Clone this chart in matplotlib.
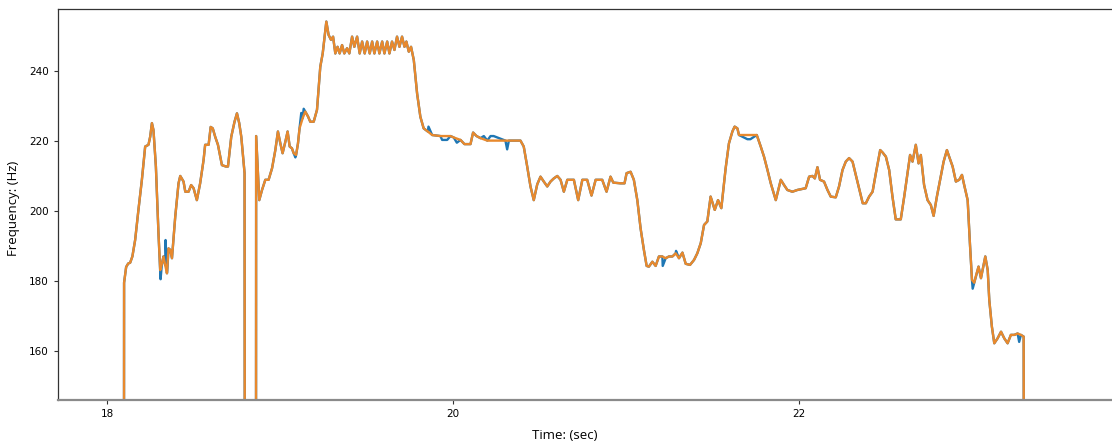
import numpy as np
import matplotlib.pyplot as plt

# smoothed pitch track (orange), time in sec / frequency in Hz
t_smooth = [
    18.096, 18.098, 18.110, 18.122, 18.133, 18.146, 18.162, 18.181, 18.201, 18.220,
    18.239, 18.249, 18.259, 18.268, 18.282, 18.297, 18.307, 18.317, 18.326, 18.336,
    18.346, 18.355, 18.365, 18.375, 18.394, 18.413, 18.423, 18.442, 18.452, 18.471,
    18.486, 18.500, 18.519, 18.538, 18.558, 18.567, 18.587, 18.599, 18.611, 18.625,
    18.641, 18.664, 18.687, 18.699, 18.718, 18.737, 18.751, 18.764, 18.776, 18.795,
    18.798, 18.860, 18.862, 18.880, 18.896, 18.915, 18.934, 18.954, 18.973, 18.988,
    19.002, 19.015, 19.031, 19.044, 19.056, 19.069, 19.079, 19.093, 19.104, 19.113,
    19.131, 19.146, 19.162, 19.175, 19.195, 19.214, 19.233, 19.247, 19.258, 19.268,
    19.281, 19.295, 19.307, 19.320, 19.333, 19.345, 19.359, 19.372, 19.388, 19.401,
    19.417, 19.430, 19.446, 19.461, 19.475, 19.490, 19.504, 19.519, 19.533, 19.546,
    19.562, 19.575, 19.591, 19.604, 19.620, 19.633, 19.648, 19.662, 19.677, 19.691,
    19.706, 19.720, 19.731, 19.745, 19.758, 19.774, 19.793, 19.812, 19.831, 19.855,
    19.880, 19.928, 19.986, 20.005, 20.044, 20.067, 20.102, 20.117, 20.137, 20.160,
    20.199, 20.391, 20.410, 20.430, 20.449, 20.468, 20.488, 20.507, 20.526, 20.546,
    20.565, 20.584, 20.604, 20.623, 20.642, 20.662, 20.700, 20.725, 20.749, 20.777,
    20.802, 20.826, 20.864, 20.889, 20.912, 20.928, 20.970, 20.993, 21.005, 21.028,
    21.047, 21.067, 21.086, 21.105, 21.121, 21.134, 21.154, 21.173, 21.192, 21.212,
    21.231, 21.250, 21.270, 21.289, 21.308, 21.328, 21.347, 21.372, 21.395, 21.414,
    21.434, 21.453, 21.472, 21.491, 21.515, 21.534, 21.553, 21.578, 21.597, 21.617,
    21.630, 21.646, 21.655, 21.758, 21.781, 21.800, 21.820, 21.839, 21.868, 21.897,
    21.916, 21.935, 21.964, 21.993, 22.041, 22.061, 22.080, 22.094, 22.109, 22.124,
    22.147, 22.167, 22.186, 22.215, 22.234, 22.254, 22.273, 22.292, 22.312, 22.331,
    22.350, 22.371, 22.389, 22.408, 22.428, 22.447, 22.472, 22.486, 22.505, 22.524,
    22.543, 22.562, 22.591, 22.611, 22.630, 22.645, 22.659, 22.678, 22.694, 22.707,
    22.726, 22.746, 22.765, 22.781, 22.800, 22.819, 22.839, 22.858, 22.871, 22.891,
    22.910, 22.929, 22.945, 22.958, 22.978, 22.991, 23.003, 23.016, 23.030, 23.041,
    23.055, 23.068, 23.080, 23.094, 23.103, 23.118, 23.132, 23.151, 23.171, 23.190,
    23.209, 23.228, 23.248, 23.267, 23.286, 23.302, 23.306,
]
f_smooth = [
    0.0, 179.5, 184.0, 185.0, 185.2, 187.0, 191.7, 200.3, 208.9, 218.4,
    218.9, 221.2, 225.1, 223.1, 212.7, 193.6, 183.1, 185.0, 187.0, 184.5,
    182.2, 189.3, 188.9, 186.5, 198.4, 207.9, 210.0, 208.4, 205.5, 205.5,
    207.4, 206.5, 203.1, 207.9, 214.6, 218.9, 218.9, 224.0, 223.6, 221.2,
    218.9, 213.1, 212.7, 212.7, 221.2, 225.5, 227.9, 225.1, 221.2, 210.8,
    0.0, 0.0, 221.4, 203.1, 206.0, 208.9, 208.9, 212.2, 217.4, 222.7,
    219.3, 216.5, 219.8, 222.7, 218.4, 217.9, 216.5, 216.0, 219.3, 223.6,
    226.5, 228.4, 227.0, 225.5, 225.5, 228.9, 241.2, 245.0, 249.8, 254.1,
    250.3, 248.9, 249.8, 245.0, 246.9, 245.0, 247.4, 245.0, 246.5, 245.0,
    249.8, 246.9, 249.8, 245.0, 248.4, 245.0, 248.4, 245.0, 248.4, 245.0,
    248.4, 245.0, 248.4, 245.0, 248.4, 245.0, 248.4, 246.0, 249.8, 246.9,
    249.8, 246.9, 248.4, 245.5, 246.9, 243.1, 233.6, 226.9, 223.6, 222.7,
    221.7, 221.4, 221.4, 221.0, 220.3, 219.1, 219.1, 222.4, 221.4, 220.8,
    220.1, 220.1, 218.4, 212.7, 207.0, 203.1, 207.6, 209.8, 208.4, 207.0,
    208.4, 209.3, 210.0, 208.9, 205.5, 208.9, 208.9, 203.1, 208.9, 208.9,
    204.4, 208.9, 208.9, 205.5, 209.8, 208.1, 207.9, 207.9, 210.8, 211.2,
    208.9, 203.1, 195.0, 188.9, 184.3, 184.1, 185.5, 184.3, 187.0, 187.0,
    186.5, 187.0, 187.0, 187.9, 186.5, 188.1, 184.9, 184.6, 186.0, 187.9,
    190.8, 196.0, 197.0, 204.1, 200.3, 203.1, 200.8, 212.2, 219.3, 222.7,
    224.1, 223.6, 221.7, 221.7, 218.4, 215.5, 211.7, 207.9, 203.1, 208.9,
    207.4, 206.0, 205.5, 206.0, 206.5, 209.8, 210.0, 209.3, 212.5, 208.9,
    208.4, 206.0, 204.1, 203.9, 207.0, 211.7, 214.1, 215.1, 214.1, 210.3,
    206.5, 202.2, 202.2, 204.1, 205.5, 210.8, 217.4, 216.7, 215.5, 211.7,
    204.1, 197.6, 197.6, 204.1, 210.8, 216.0, 214.1, 218.9, 213.6, 216.0,
    207.4, 203.1, 201.7, 198.6, 204.1, 208.9, 214.1, 217.4, 215.5, 212.7,
    208.4, 208.9, 210.3, 207.4, 203.1, 190.8, 180.3, 179.5, 182.2, 184.1,
    180.8, 184.1, 187.0, 183.1, 174.6, 167.0, 162.2, 163.6, 165.5, 163.6,
    162.2, 164.6, 164.6, 165.0, 164.6, 164.1, 0.0,
]

# places where the raw track (blue) leaves the smoothed one
t_raw_extra = [18.309, 18.328, 18.338, 18.348, 19.089, 19.123, 19.137, 19.859,
               19.938, 19.967, 20.023, 20.179, 20.218, 20.236, 20.304, 20.314,
               20.324, 21.214, 21.291, 21.704, 21.721, 23.007, 23.276]
f_raw_extra = [180.5, 186.0, 191.7, 183.0, 215.3, 228.0, 229.2, 224.1,
               220.3, 220.3, 219.5, 221.4, 221.4, 221.4, 220.1, 217.6,
               220.1, 184.3, 188.6, 220.5, 220.5, 177.8, 162.6]

t_raw = np.concatenate([t_smooth, t_raw_extra])
f_raw = np.concatenate([f_smooth, f_raw_extra])
order = np.argsort(t_raw, kind="stable")
t_raw, f_raw = t_raw[order], f_raw[order]

fig = plt.figure(figsize=(11.12, 4.41), dpi=100)
ax = fig.add_axes([0.0522, 0.093, 0.9478, 0.8866])

ax.plot(t_raw, f_raw, color="#1f77b4", lw=1.7)
ax.plot(t_smooth, f_smooth, color="#e8892d", lw=1.7)

ax.set_xlim(17.716, 23.813)
ax.set_ylim(146, 257.7)
ax.set_xticks([18, 20, 22])
ax.set_yticks([160, 180, 200, 220, 240])
ax.tick_params(labelsize=7.5, length=3, color="#333333")

ax.set_xlabel("Time: (sec)", family="Open Sans", fontsize=9.5)
ax.set_ylabel("Frequency: (Hz)", family="Open Sans", fontsize=9.5)
ax.xaxis.set_label_coords(0.4805, -0.075)
ax.yaxis.set_label_coords(-0.036, 0.49)

for s in ["top", "left"]:
    ax.spines[s].set_color("#333333")
    ax.spines[s].set_linewidth(0.9)
ax.spines["right"].set_visible(False)
ax.spines["bottom"].set_color("#8a8a8a")
ax.spines["bottom"].set_linewidth(1.6)

fig.savefig("out.png", dpi=100)
